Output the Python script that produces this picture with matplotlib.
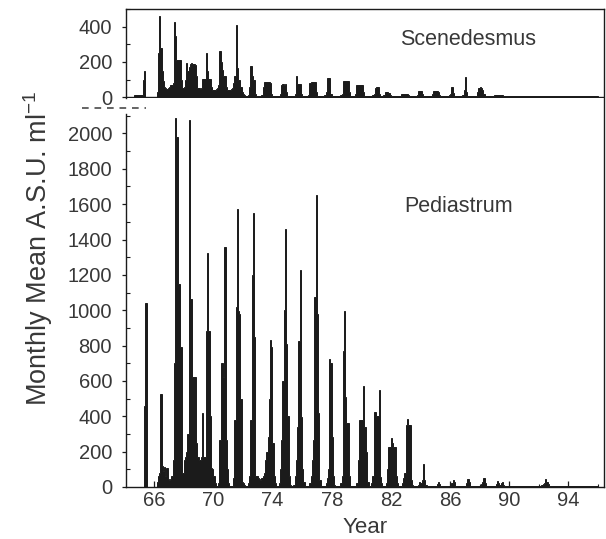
import matplotlib

matplotlib.use("Agg")
import matplotlib.pyplot as plt
import numpy as np
from matplotlib.lines import Line2D

plt.rcParams["font.family"] = ["Liberation Sans", "DejaVu Sans"]
plt.rcParams["mathtext.fontset"] = "custom"
plt.rcParams["mathtext.rm"] = "Liberation Sans"

# one row per year, twelve monthly means (A.S.U. per ml)
years = list(range(1964, 1996))

scenedesmus = [
    [0, 0, 0, 0, 0, 0, 0, 0, 10, 10, 10, 10],            # 1964
    [10, 10, 10, 100, 147, 0, 0, 0, 0, 0, 0, 0],          # 1965
    [0, 0, 30, 250, 461, 280, 150, 91, 55, 50, 45, 50],   # 1966
    [60, 70, 70, 80, 429, 347, 213, 213, 213, 213, 100, 50],
    [60, 100, 194, 149, 170, 189, 196, 189, 189, 180, 120, 50],
    [50, 45, 50, 105, 105, 105, 251, 150, 105, 105, 60, 40],
    [40, 40, 45, 50, 70, 265, 200, 156, 120, 120, 60, 40],  # 1970
    [40, 40, 45, 50, 80, 120, 410, 166, 99, 99, 60, 30],
    [20, 10, 5, 5, 10, 60, 179, 120, 99, 99, 20, 5],
    [5, 5, 5, 10, 60, 85, 88, 85, 85, 88, 80, 20],
    [5, 5, 5, 5, 5, 5, 20, 70, 74, 70, 72, 30],
    [5, 5, 5, 5, 5, 5, 20, 122, 74, 74, 74, 20],          # 1975
    [5, 5, 5, 5, 5, 10, 80, 86, 88, 88, 86, 30],
    [5, 5, 5, 5, 5, 5, 10, 30, 107, 109, 107, 15],
    [5, 5, 5, 5, 5, 5, 5, 10, 20, 91, 93, 91],
    [92, 91, 30, 5, 5, 5, 5, 20, 67, 69, 69, 67],
    [68, 30, 5, 5, 5, 5, 5, 5, 5, 10, 20, 53],            # 1980
    [57, 55, 15, 5, 5, 5, 10, 28, 30, 30, 25, 10],
    [5, 5, 5, 5, 5, 5, 5, 5, 15, 15, 15, 15],
    [15, 15, 10, 5, 5, 5, 5, 5, 5, 10, 36, 36],
    [36, 20, 5, 5, 5, 5, 5, 5, 5, 20, 36, 36],
    [36, 36, 30, 10, 5, 5, 5, 5, 5, 5, 5, 10],            # 1985
    [20, 55, 25, 5, 5, 5, 5, 5, 5, 5, 10, 40],
    [112, 30, 5, 5, 5, 5, 5, 5, 5, 5, 30, 50],
    [55, 50, 40, 20, 5, 5, 5, 5, 5, 5, 5, 5],
    [10, 10, 10, 10, 10, 10, 10, 5, 5, 5, 5, 5],
    [5, 5, 5, 5, 5, 5, 5, 5, 5, 5, 5, 5],                 # 1990
    [5, 5, 5, 5, 5, 5, 5, 5, 5, 5, 5, 5],
    [5, 5, 5, 5, 5, 8, 8, 5, 5, 5, 5, 5],
    [5, 5, 5, 5, 5, 5, 5, 5, 5, 5, 5, 5],
    [5, 5, 5, 5, 5, 5, 5, 5, 5, 5, 5, 5],
    [5, 5, 5, 5, 5, 5, 5, 5, 5, 5, 5, 5],                 # 1995
]

pediastrum = [
    [0, 0, 0, 0, 0, 0, 0, 0, 0, 0, 0, 0],                 # 1964
    [0, 0, 0, 0, 460, 1040, 0, 0, 0, 0, 0, 0],            # 1965
    [0, 0, 30, 60, 80, 524, 120, 90, 113, 60, 105, 45],
    [40, 45, 60, 150, 700, 2086, 1980, 1150, 1150, 790, 790, 80],
    [150, 170, 200, 300, 2077, 1065, 1065, 620, 620, 620, 250, 170],
    [150, 150, 170, 417, 170, 170, 885, 1326, 885, 400, 107, 100],
    [60, 20, 5, 5, 20, 265, 700, 700, 620, 1358, 265, 100],  # 1970
    [20, 5, 5, 5, 50, 380, 1016, 1574, 997, 980, 500, 30],
    [25, 10, 5, 5, 20, 60, 377, 1200, 1551, 850, 60, 60],
    [50, 45, 40, 50, 60, 80, 150, 200, 283, 500, 834, 790],
    [247, 60, 20, 5, 5, 20, 100, 265, 600, 1000, 1459, 810],
    [400, 60, 10, 5, 5, 10, 60, 150, 340, 828, 1228, 396],  # 1975
    [100, 30, 5, 5, 5, 5, 20, 60, 150, 265, 1072, 1650],
    [980, 417, 40, 5, 5, 5, 5, 20, 50, 100, 726, 700],
    [283, 60, 10, 5, 5, 5, 5, 20, 60, 772, 993, 509],
    [360, 360, 60, 5, 5, 5, 5, 5, 20, 150, 377, 377],
    [377, 571, 340, 340, 200, 30, 5, 5, 20, 60, 422, 422],  # 1980
    [400, 400, 546, 58, 20, 5, 5, 5, 20, 100, 227, 227],
    [276, 250, 227, 227, 60, 20, 5, 5, 5, 20, 50, 80],
    [350, 383, 350, 350, 40, 10, 5, 5, 5, 5, 10, 30],
    [20, 40, 130, 40, 10, 5, 5, 5, 5, 5, 5, 5],
    [5, 15, 30, 15, 5, 5, 5, 5, 5, 5, 5, 5],              # 1985
    [5, 20, 40, 30, 5, 5, 5, 5, 5, 5, 5, 5],
    [5, 20, 45, 30, 5, 5, 5, 5, 5, 5, 5, 5],
    [5, 15, 30, 50, 20, 5, 5, 5, 5, 5, 5, 5],
    [5, 15, 35, 20, 10, 20, 30, 10, 5, 5, 5, 5],
    [8, 8, 8, 8, 8, 8, 8, 8, 8, 8, 8, 8],                 # 1990
    [8, 8, 8, 8, 8, 8, 8, 8, 8, 8, 8, 8],
    [8, 8, 10, 15, 20, 45, 30, 15, 8, 8, 8, 8],
    [5, 5, 5, 5, 8, 8, 8, 5, 5, 5, 5, 5],
    [5, 5, 5, 5, 5, 8, 8, 5, 5, 5, 5, 5],
    [5, 5, 5, 5, 5, 5, 5, 5, 5, 5, 5, 5],                 # 1995
]

year_ticks = [66, 70, 74, 78, 82, 86, 90, 94]
top_ticks = [0, 200, 400]
bottom_ticks = list(range(0, 2001, 200))

INK = "#1b1b1b"
TEXT = "#383838"


def monthly(rows):
    # month edges in two-digit years, plus the flattened monthly values
    vals = np.array(rows, dtype=float).ravel()
    edges = (years[0] - 1900) + np.arange(len(vals) + 1) / 12
    return edges, vals


def style_left(ax, minor_step):
    ax.yaxis.set_minor_locator(matplotlib.ticker.MultipleLocator(minor_step))
    ax.tick_params(axis="y", which="major", direction="out", length=3, width=0.9,
                   labelsize=14.5, labelcolor=TEXT, color=INK, pad=7)
    ax.tick_params(axis="y", which="minor", direction="in", length=3, width=0.8, color=INK)
    for side in ("left", "bottom", "top"):
        ax.spines[side].set_color(INK)
        ax.spines[side].set_linewidth(1.0)
    ax.spines["right"].set_visible(False)


fig = plt.figure(figsize=(6.06, 5.39), dpi=100)
ax_top = fig.add_axes([0.2079, 0.8184, 0.7888, 0.164])
ax_bot = fig.add_axes([0.2079, 0.0965, 0.7888, 0.692])

xlim = (64.1, 96.4)

edges, v = monthly(scenedesmus)
ax_top.stairs(v, edges, fill=True, color=INK, linewidth=0.7, edgecolor=INK)
ax_top.axhline(0, color=INK, linewidth=1.0)
ax_top.set_xlim(*xlim)
ax_top.set_ylim(-5, 500)
ax_top.set_yticks(top_ticks)
ax_top.set_xticks([])
style_left(ax_top, 100)
ax_top.spines["bottom"].set_visible(False)
ax_top.text(87.2, 326, "Scenedesmus", fontsize=15.5, color=TEXT, ha="center", va="center")

edges, v = monthly(pediastrum)
ax_bot.stairs(v, edges, fill=True, color=INK, linewidth=0.7, edgecolor=INK)
ax_bot.set_xlim(*xlim)
ax_bot.set_ylim(0, 2110)
ax_bot.set_yticks(bottom_ticks)
ax_bot.set_xticks(year_ticks)
ax_bot.xaxis.set_minor_locator(matplotlib.ticker.MultipleLocator(2))
ax_bot.tick_params(axis="x", which="major", direction="in", length=4, width=0.9,
                   labelsize=14.5, labelcolor=TEXT, color=INK, pad=3)
ax_bot.tick_params(axis="x", which="minor", direction="in", length=2.5, width=0.8, color=INK)
style_left(ax_bot, 100)
ax_bot.spines["top"].set_visible(False)
ax_bot.text(86.6, 1589, "Pediastrum", fontsize=15.5, color=TEXT, ha="center", va="center")

# continuous right frame and the axis-break dashes
fig.add_artist(Line2D([0.9967, 0.9967], [0.0965, 0.9824], transform=fig.transFigure,
                      color=INK, linewidth=1.0))
fig.add_artist(Line2D([0.135, 0.241], [0.7996, 0.7996], transform=fig.transFigure,
                      color="#4a4a4a", linewidth=1.2, linestyle=(0, (4, 3.5))))

fig.text(0.063, 0.54, "Monthly Mean A.S.U. ml$^{-1}$", rotation=90, fontsize=19.5,
         color=TEXT, ha="center", va="center")
fig.text(0.602, 0.022, "Year", fontsize=16, color=TEXT, ha="center", va="center")

fig.savefig("out.png", dpi=100)
plt.close(fig)
